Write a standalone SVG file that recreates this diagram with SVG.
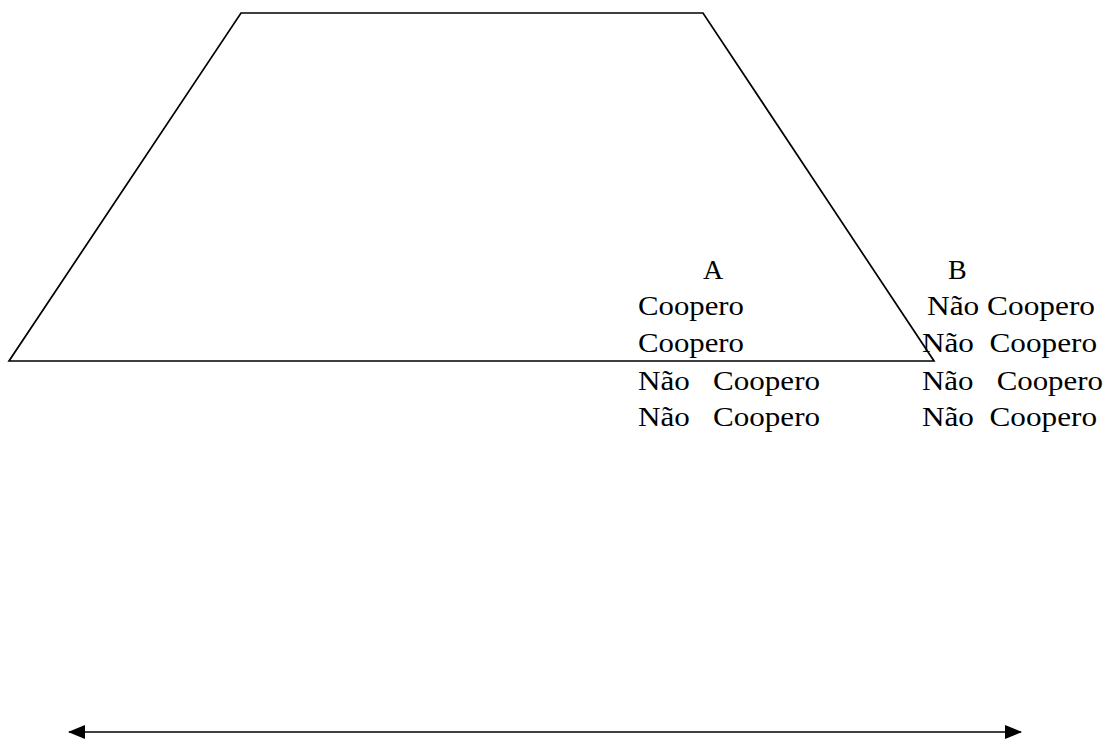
<svg xmlns="http://www.w3.org/2000/svg" width="1105" height="740" viewBox="0 0 1105 740">
  <style>
    .lbl { font-family: "Liberation Serif", "Times New Roman", serif; font-size: 28px; fill: #000; white-space: pre; }
    .edge { fill: none; stroke: #000; stroke-width: 1.7; }
  </style>
  <defs>
    <marker id="head" markerUnits="userSpaceOnUse" markerWidth="17" markerHeight="14" refX="16" refY="7" orient="auto-start-reverse">
      <path d="M0,0 L17,7 L0,14 Z" fill="#000"/>
    </marker>
  </defs>
  <rect width="1105" height="740" fill="#fff"/>

  <!-- trapezoid -->
  <g id="trapezoid">
    <polygon class="edge" points="241,13 703,13 934,361 9,361"/>
  </g>

  <!-- column A -->
  <g id="player-a">
    <text class="lbl" x="703" y="279">A</text>
    <text class="lbl" x="638" y="315" textLength="106" lengthAdjust="spacingAndGlyphs">Coopero</text>
    <text class="lbl" x="638" y="352" textLength="106" lengthAdjust="spacingAndGlyphs">Coopero</text>
    <text class="lbl" x="638" y="390" textLength="182" lengthAdjust="spacingAndGlyphs" xml:space="preserve">Não   Coopero</text>
    <text class="lbl" x="638" y="426" textLength="182" lengthAdjust="spacingAndGlyphs" xml:space="preserve">Não   Coopero</text>
  </g>

  <!-- column B -->
  <g id="player-b">
    <text class="lbl" x="948" y="279">B</text>
    <text class="lbl" x="927" y="315" textLength="168" lengthAdjust="spacingAndGlyphs">Não Coopero</text>
    <text class="lbl" x="922" y="352" textLength="175" lengthAdjust="spacingAndGlyphs" xml:space="preserve">Não  Coopero</text>
    <text class="lbl" x="922" y="390" textLength="181" lengthAdjust="spacingAndGlyphs" xml:space="preserve">Não   Coopero</text>
    <text class="lbl" x="922" y="426" textLength="175" lengthAdjust="spacingAndGlyphs" xml:space="preserve">Não  Coopero</text>
  </g>

  <!-- double-headed axis -->
  <g id="connectors">
    <line class="edge" x1="69" y1="732" x2="1021" y2="732" marker-start="url(#head)" marker-end="url(#head)"/>
  </g>
</svg>
